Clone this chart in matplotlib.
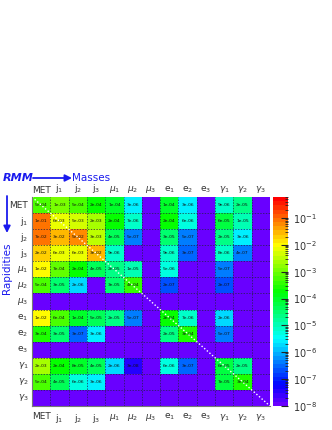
import colorsys
import numpy as np
import matplotlib
matplotlib.use('Agg')
import matplotlib.pyplot as plt
from matplotlib.colors import ListedColormap, LogNorm
from matplotlib.patches import FancyArrowPatch

# objects along both axes
labels = ['MET', r'$\mathrm{j}_{1}$', r'$\mathrm{j}_{2}$', r'$\mathrm{j}_{3}$',
          r'$\mu_{1}$', r'$\mu_{2}$', r'$\mu_{3}$',
          r'$\mathrm{e}_{1}$', r'$\mathrm{e}_{2}$', r'$\mathrm{e}_{3}$',
          r'$\gamma_{1}$', r'$\gamma_{2}$', r'$\gamma_{3}$']

# rapidity-mass matrix, 0 = empty cell
rmm = [
    [5e-04, 1e-03, 5e-04, 2e-04, 1e-04, 3e-06, 0, 1e-04, 3e-06, 0, 9e-06, 2e-05, 0],
    [1e-01, 6e-03, 5e-03, 2e-03, 2e-04, 7e-06, 0, 2e-04, 6e-06, 0, 6e-05, 1e-05, 0],
    [7e-02, 3e-02, 5e-02, 3e-03, 4e-05, 5e-07, 0, 3e-05, 5e-07, 0, 2e-05, 3e-06, 0],
    [2e-02, 6e-03, 6e-03, 3e-02, 9e-06, 0, 0, 9e-06, 3e-07, 0, 8e-06, 4e-07, 0],
    [1e-02, 7e-04, 2e-04, 4e-05, 2e-05, 1e-05, 0, 5e-06, 0, 0, 5e-07, 0, 0],
    [5e-04, 3e-05, 2e-06, 0, 3e-05, 4e-04, 0, 2e-07, 0, 0, 2e-07, 0, 0],
    [0, 0, 0, 0, 0, 0, 0, 0, 0, 0, 0, 0, 0],
    [1e-02, 6e-04, 1e-04, 5e-05, 2e-05, 5e-07, 0, 2e-04, 7e-06, 0, 2e-06, 0, 0],
    [3e-04, 3e-05, 3e-07, 3e-06, 0, 0, 0, 2e-05, 3e-04, 0, 5e-07, 0, 0],
    [0, 0, 0, 0, 0, 0, 0, 0, 0, 0, 0, 0, 0],
    [2e-03, 2e-04, 8e-05, 4e-05, 2e-06, 3e-08, 0, 6e-06, 3e-07, 0, 6e-05, 2e-05, 0],
    [5e-04, 4e-05, 6e-06, 3e-06, 0, 0, 0, 0, 0, 0, 7e-05, 3e-04, 0],
    [0, 0, 0, 0, 0, 0, 0, 0, 0, 0, 0, 0, 0],
]

zmin, zmax = 1e-8, 0.6

# 50 hues, violet -> red (like the ROOT pretty palette)
cols = []
for i in range(50):
    h = 270.0 - (i + 1) * 270.0 / 50
    cols.append(colorsys.hls_to_rgb(h / 360.0, 0.5, 1.0))
cmap = ListedColormap(cols)

W, H = 332, 430
fig = plt.figure(figsize=(W / 100, H / 100), dpi=100)

x0, x1, y0, y1 = 32, 270, 197, 406
ax = fig.add_axes([x0 / W, 1 - y1 / H, (x1 - x0) / W, (y1 - y0) / H])

n = len(labels)
z = np.array(rmm, dtype=float)
zplot = np.where(z > 0, z, zmin * 1.01)
ax.pcolormesh(np.arange(n + 1), np.arange(n + 1), zplot, cmap=cmap,
              norm=LogNorm(vmin=zmin, vmax=zmax))
ax.set_xlim(0, n)
ax.set_ylim(n, 0)

for i in range(n):
    for j in range(n):
        if z[i, j] > 0:
            ax.text(j + 0.5, i + 0.5, f'{z[i, j]:.0e}', ha='center', va='center',
                    fontsize=3.2, color='#111111')

# dotted grid
for k in range(1, n):
    ax.axvline(k, color='#222244', lw=0.5, ls=(0, (2, 2)))
    ax.axhline(k, color='#222244', lw=0.5, ls=(0, (2, 2)))
ax.plot([0, n], [0, n], color='white', lw=1.0, ls=(0, (1, 1.5)))

ax.set_xticks([])
ax.set_yticks([])
for s in ax.spines.values():
    s.set_visible(False)
ax.spines['left'].set_visible(True)
ax.spines['bottom'].set_visible(True)
ax.spines['left'].set_color('#777777')
ax.spines['bottom'].set_color('#777777')

lab_col = '#333333'
for k, lab in enumerate(labels):
    ax.text(k + 0.5, -0.15, lab, ha='center', va='bottom', fontsize=6.5, color=lab_col)
    ax.text(k + 0.5, n + 0.35, lab, ha='center', va='top', fontsize=6.5, color=lab_col)
    ax.text(-0.2, k + 0.5, lab, ha='right', va='center', fontsize=6.5, color=lab_col)

# colorbar
cax = fig.add_axes([273 / W, 1 - y1 / H, 15 / W, (y1 - y0) / H])
sm = plt.cm.ScalarMappable(cmap=cmap, norm=LogNorm(vmin=zmin, vmax=zmax))
cb = fig.colorbar(sm, cax=cax)
cb.outline.set_visible(False)
cax.tick_params(which='both', direction='in', right=True, left=False,
                labelsize=7, labelcolor=lab_col, color='#222222')
cax.tick_params(which='major', length=5)
cax.tick_params(which='minor', length=2.5)

# titles with arrows
blue = '#1a1aee'
ty = 178
fig.text(3 / W, 1 - ty / H, 'RMM', color=blue, fontsize=8, fontweight='bold',
         fontstyle='italic', va='center', ha='left')
fig.add_artist(FancyArrowPatch((33 / W, 1 - ty / H), (72 / W, 1 - ty / H),
                               transform=fig.transFigure, arrowstyle='-|>',
                               mutation_scale=10, color=blue, lw=1.3,
                               shrinkA=0, shrinkB=0))
fig.text(72 / W, 1 - ty / H, 'Masses', color=blue, fontsize=7.5, va='center', ha='left')

fig.add_artist(FancyArrowPatch((7 / W, 1 - 196 / H), (7 / W, 1 - 233 / H),
                               transform=fig.transFigure, arrowstyle='-|>',
                               mutation_scale=10, color=blue, lw=1.3,
                               shrinkA=0, shrinkB=0))
fig.text(7 / W, 1 - 268 / H, 'Rapidities', color=blue, fontsize=7.5, rotation=90,
         va='center', ha='center')

fig.savefig('out.png', dpi=100)
